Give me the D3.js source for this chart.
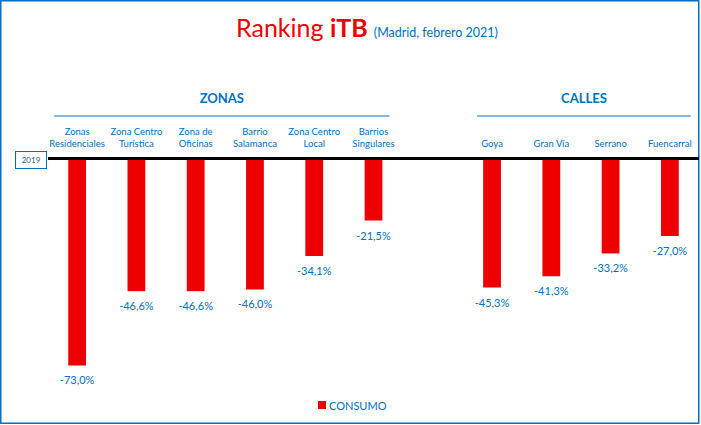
<!DOCTYPE html>
<html>
<head>
<meta charset="utf-8">
<script src="https://cdn.jsdelivr.net/npm/d3@7"></script>
<style>
  body { margin: 0; background: #fff; }
  text { font-family: Lato, "Open Sans", sans-serif; }
</style>
</head>
<body>
<div id="chart"></div>
<script>
// categories (| marks a line break in the tick label)
const zonas = ["Zonas|Residenciales", "Zona Centro|Turística", "Zona de|Oficinas", "Barrio|Salamanca", "Zona Centro|Local", "Barrios|Singulares"];
const zonasValues = [-73.0, -46.6, -46.6, -46.0, -34.1, -21.5];
const calles = ["Goya", "Gran Vía", "Serrano", "Fuencarral"];
const callesValues = [-45.3, -41.3, -33.2, -27.0];
const groupLabels = ["ZONAS", "CALLES"];
const seriesName = "CONSUMO";
const baseLabel = "2019";

const width = 701, height = 425;
const red = "#ee0000", blue = "#0070c0";

let data = zonas.map((c, i) => ({cat: c, value: zonasValues[i]}))
  .concat(calles.map((c, i) => ({cat: c, value: callesValues[i]})));

let svg = d3.select("#chart").append("svg")
  .attr("width", width)
  .attr("height", height);

// chart border
svg.append("rect")
  .attr("x", 0.75).attr("y", 0.75)
  .attr("width", 698).attr("height", 422.5)
  .attr("fill", "none")
  .attr("stroke", blue)
  .attr("stroke-width", 1.5);

// title
let title = svg.append("text")
  .attr("x", 236).attr("y", 37)
  .attr("fill", red)
  .style("font-size", "25px");
title.append("tspan").text("Ranking ");
title.append("tspan").text("iTB").style("font-weight", "bold");
title.append("tspan").text(" (Madrid, febrero 2021)")
  .attr("fill", blue).style("font-size", "12.5px").attr("dx", 3);

// one empty slot between the two groups
let domain = zonas.concat(["__gap__"], calles);
let xScale = d3.scaleBand()
  .domain(domain)
  .range([47.5, 699.5])
  .paddingInner(0.7)
  .paddingOuter(0.35);

let yScale = d3.scaleLinear()
  .domain([0, -80])
  .range([160, 160 + 80 * 2.815]);

// bars
svg.append("g").attr("id", "bars")
  .selectAll("rect").data(data).enter().append("rect")
  .attr("x", d => xScale(d.cat))
  .attr("width", xScale.bandwidth())
  .attr("y", yScale(0))
  .attr("height", d => yScale(d.value) - yScale(0))
  .attr("fill", red);

// value labels
svg.append("g").attr("id", "values")
  .selectAll("text").data(data).enter().append("text")
  .attr("x", d => xScale(d.cat) + xScale.bandwidth() / 2)
  .attr("y", d => yScale(d.value) + 19)
  .attr("text-anchor", "middle")
  .attr("fill", blue)
  .style("font-size", "11px")
  .text(d => d3.format(".1f")(d.value).replace("−", "-").replace(".", ",") + "%");

// category axis on top (labels only)
let xAxis = d3.axisTop(xScale).tickSize(0).tickFormat("");
let gx = svg.append("g").attr("id", "xaxis")
  .attr("transform", "translate(0,150)")
  .call(xAxis);
gx.select(".domain").remove();
gx.selectAll(".tick").filter(d => d === "__gap__").remove();
gx.selectAll(".tick").each(function(d) {
  let lines = d.split("|");
  let t = d3.select(this).append("text")
    .attr("text-anchor", "middle")
    .attr("fill", blue)
    .style("font-size", "9.5px");
  lines.forEach((l, i) => {
    t.append("tspan")
      .attr("x", 0)
      .attr("y", -3 - (lines.length - 1 - i) * 12)
      .text(l);
  });
});

// zero line
svg.append("line")
  .attr("x1", 48).attr("x2", 699)
  .attr("y1", yScale(0) - 1.5).attr("y2", yScale(0) - 1.5)
  .attr("stroke", "#000")
  .attr("stroke-width", 3);

// 2019 box
svg.append("rect")
  .attr("x", 15.5).attr("y", 151.5)
  .attr("width", 31).attr("height", 17)
  .attr("fill", "#fff")
  .attr("stroke", blue);
svg.append("text")
  .attr("x", 31).attr("y", 163)
  .attr("text-anchor", "middle")
  .attr("fill", "#2e5f8f")
  .style("font-size", "8px")
  .text(baseLabel);

// group headers
let bw = xScale.bandwidth();
let groups = [
  {label: groupLabels[0], x1: xScale(zonas[0]) - 14, x2: xScale(zonas[zonas.length - 1]) + bw + 7},
  {label: groupLabels[1], x1: xScale(calles[0]) - 6, x2: xScale(calles[calles.length - 1]) + bw + 12}
];
let gh = svg.append("g").attr("id", "groups");
gh.selectAll("line").data(groups).enter().append("line")
  .attr("x1", d => d.x1).attr("x2", d => d.x2)
  .attr("y1", 116).attr("y2", 116)
  .attr("stroke", blue)
  .attr("stroke-width", 1);
gh.selectAll("text").data(groups).enter().append("text")
  .attr("x", d => (d.x1 + d.x2) / 2)
  .attr("y", 103)
  .attr("text-anchor", "middle")
  .attr("fill", blue)
  .style("font-size", "13px")
  .style("font-weight", "bold")
  .text(d => d.label);

// legend
let legend = svg.append("g").attr("transform", "translate(318,401)");
legend.append("rect").attr("width", 8).attr("height", 8).attr("fill", red);
legend.append("text")
  .attr("x", 11).attr("y", 8.5)
  .attr("fill", blue)
  .style("font-size", "11px")
  .text(seriesName);
</script>
</body>
</html>
